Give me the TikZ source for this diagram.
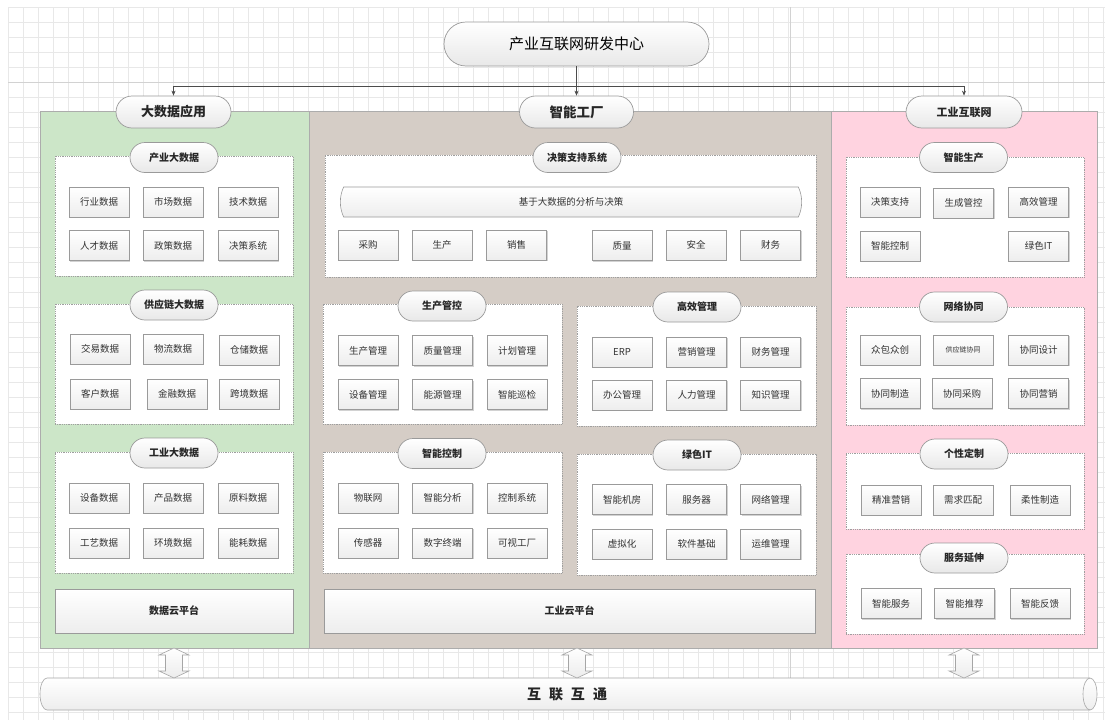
\documentclass[tikz,border=0pt]{standalone}
\usepackage{fontspec}
\setmainfont{Noto Sans CJK SC}
\usetikzlibrary{shapes.misc,shadows,arrows.meta,calc}
\definecolor{pgreen}{HTML}{CCE6C8}
\definecolor{pbrown}{HTML}{D5CDC6}
\definecolor{ppink}{HTML}{FFD3E0}
\definecolor{gridc}{HTML}{E8E8E8}
\definecolor{gridd}{HTML}{D2D2D2}
\definecolor{edge}{HTML}{9A9A9A}
\definecolor{txt}{HTML}{333333}
\begin{document}
\begin{tikzpicture}[x=1pt,y=-1pt,
 item/.style={draw=edge, line width=0.6pt, top color=white, bottom color=gray!14,
   minimum width=60pt, minimum height=30pt, inner sep=1pt,
   font=\fontsize{9.5}{11}\selectfont, text=txt,
   drop shadow={shadow xshift=1.2pt, shadow yshift=-1.2pt, opacity=0.35}},
 pill/.style={rounded rectangle, draw=edge, line width=0.7pt, top color=white, bottom color=gray!18,
   minimum width=90pt, minimum height=30pt, inner sep=1pt,
   font=\fontsize{10}{12}\selectfont\bfseries, text=black!85},
 group/.style={draw=gray!75, densely dotted, line width=0.8pt, fill=white, inner sep=0pt},
 panel/.style={draw=gray!65, line width=0.6pt, inner sep=0pt},
 cloud/.style={draw=edge, line width=0.6pt, top color=white, bottom color=gray!14, inner sep=0pt,
   font=\fontsize{10}{12}\selectfont\bfseries, text=black!85,
   drop shadow={shadow xshift=1.2pt, shadow yshift=-1.2pt, opacity=0.35}},
 conn/.style={draw=gray!60!black, line width=0.6pt, -{Stealth[length=5pt,width=4pt]}},
 dbl/.style={draw=gray!70, line width=0.6pt, top color=white, bottom color=gray!15},
]
\useasboundingbox (0,0) rectangle (1105,720);
\fill[white] (0,0) rectangle (1105,720);
% grid
\foreach \i in {0,...,73} \draw[gridc, line width=0.5pt] ({8+15*\i},7) -- ({8+15*\i},720);
\foreach \j in {0,...,47} \draw[gridc, line width=0.5pt] (8,{7+15*\j}) -- (1105,{7+15*\j});
\draw[gridd, line width=0.6pt] (8,82) -- (1105,82);
\draw[gridd, line width=0.6pt] (790,7) -- (790,720);

% panels
\node[panel, fill=pgreen, minimum width=269pt, minimum height=537pt] (pg) at (174.5,379.5) {};
\node[panel, fill=pbrown, minimum width=522pt, minimum height=537pt] (pb) at (570,379.5) {};
\node[panel, fill=ppink, minimum width=266pt, minimum height=537pt] (pp) at (964,379.5) {};

% top
\node[pill, minimum width=267pt, minimum height=44pt, font=\fontsize{15}{18}\selectfont, text=black] (top) at (576.5,44) {产业互联网研发中心};
\node[pill, minimum width=117pt, minimum height=32pt, font=\fontsize{13}{15}\selectfont\bfseries] (dsj) at (173.5,112) {大数据应用};
\node[pill, minimum width=116pt, minimum height=32pt, font=\fontsize{13.5}{15}\selectfont\bfseries] (zngc) at (576.5,112) {智能工厂};
\node[pill, minimum width=118pt, minimum height=32pt, font=\fontsize{11}{13}\selectfont\bfseries] (gyhlw) at (964,112) {工业互联网};
\coordinate (hj) at (576.5,86);
\draw[conn] (top.south) -- (zngc.north);
\draw[conn] (hj) -| (dsj.north);
\draw[conn] (hj) -| (gyhlw.north);

% ---------- left column
\node[group, minimum width=238pt, minimum height=120pt] (g1) at (174,216) {};
\node[pill] (g1t) at (174,157.5) {产业大数据};
\node[item] (a1) at (99,202) {行业数据};
\node[item] (a2) at (173,202) {市场数据};
\node[item] (a3) at (248,202) {技术数据};
\node[item] (a4) at (99,245.5) {人才数据};
\node[item] (a5) at (173,245.5) {政策数据};
\node[item] (a6) at (248,245.5) {决策系统};

\node[group, minimum width=238pt, minimum height=120pt] (g2) at (174,364) {};
\node[pill] (g2t) at (174,305) {供应链大数据};
\node[item] (b1) at (100,349) {交易数据};
\node[item] (b2) at (173,349) {物流数据};
\node[item] (b3) at (249,350) {仓储数据};
\node[item] (b4) at (100,394) {客户数据};
\node[item] (b5) at (177,394) {金融数据};
\node[item] (b6) at (249,394) {跨境数据};

\node[group, minimum width=238pt, minimum height=121pt] (g3) at (174,512.5) {};
\node[pill] (g3t) at (174,453) {工业大数据};
\node[item] (c1) at (99,498) {设备数据};
\node[item] (c2) at (173,498) {产品数据};
\node[item] (c3) at (248,498) {原料数据};
\node[item] (c4) at (99,543) {工艺数据};
\node[item] (c5) at (173,543) {环境数据};
\node[item] (c6) at (248,543) {能耗数据};

\node[cloud, minimum width=238pt, minimum height=44pt] (cl1) at (174,611) {数据云平台};

% ---------- middle column
\node[group, minimum width=491pt, minimum height=122pt] (m1) at (570.5,216) {};
\node[pill] (m1t) at (577,157.5) {决策支持系统};
\node[rounded rectangle, rounded rectangle arc length=50, draw=edge, line width=0.6pt,
  top color=white, bottom color=gray!14, minimum width=468pt, minimum height=30pt,
  font=\fontsize{9.5}{11}\selectfont, text=txt] (ban) at (571,202) {基于大数据的分析与决策};
\node[item] (d1) at (368,245) {采购};
\node[item] (d2) at (442,245) {生产};
\node[item] (d3) at (516.5,245) {销售};
\node[item] (d4) at (622,245.5) {质量};
\node[item] (d5) at (696,245) {安全};
\node[item] (d6) at (770.5,245) {财务};

\node[group, minimum width=239pt, minimum height=120pt] (m2) at (442.5,364) {};
\node[pill] (m2t) at (442,306) {生产管控};
\node[item] (e1) at (368,350.5) {生产管理};
\node[item] (e2) at (442.5,350.5) {质量管理};
\node[item] (e3) at (517,350.5) {计划管理};
\node[item] (e4) at (368,394.5) {设备管理};
\node[item] (e5) at (442.5,394.5) {能源管理};
\node[item] (e6) at (517,394.5) {智能巡检};

\node[group, minimum width=239pt, minimum height=120pt] (m3) at (696.5,366) {};
\node[pill] (m3t) at (697,307) {高效管理};
\node[item] (f1) at (622,352) {ERP};
\node[item] (f2) at (696.5,352) {营销管理};
\node[item] (f3) at (770.5,352) {财务管理};
\node[item] (f4) at (622,395) {办公管理};
\node[item] (f5) at (696.5,395) {人力管理};
\node[item] (f6) at (770.5,395) {知识管理};

\node[group, minimum width=239pt, minimum height=121pt] (m4) at (442.5,512.5) {};
\node[pill] (m4t) at (442,453.5) {智能控制};
\node[item] (h1) at (368,498) {物联网};
\node[item] (h2) at (442.5,498) {智能分析};
\node[item] (h3) at (517,498) {控制系统};
\node[item] (h4) at (368,543) {传感器};
\node[item] (h5) at (442.5,543) {数字终端};
\node[item] (h6) at (517,543) {可视工厂};

\node[group, minimum width=239pt, minimum height=121pt] (m5) at (696.5,514.5) {};
\node[pill] (m5t) at (697,455) {绿色IT};
\node[item] (k1) at (622,499.5) {智能机房};
\node[item] (k2) at (696.5,499.5) {服务器};
\node[item] (k3) at (770.5,499.5) {网络管理};
\node[item] (k4) at (622,544) {虚拟化};
\node[item] (k5) at (696.5,544) {软件基础};
\node[item] (k6) at (770.5,544) {运维管理};

\node[cloud, minimum width=491pt, minimum height=44pt] (cl2) at (569.5,611) {工业云平台};

% ---------- right column
\node[group, minimum width=238pt, minimum height=120pt] (r1) at (965,217) {};
\node[pill] (r1t) at (963.5,157.5) {智能生产};
\node[item] (p1) at (890,202) {决策支持};
\node[item] (p2) at (963.5,203) {生成管控};
\node[item] (p3) at (1038.5,202) {高效管理};
\node[item] (p4) at (890,246) {智能控制};
\node[item] (p5) at (1038.5,246) {绿色IT};

\node[group, minimum width=238pt, minimum height=118pt] (r2) at (965,366) {};
\node[pill] (r2t) at (963.5,307) {网络协同};
\node[item] (q1) at (890,350) {众包众创};
\node[item, font=\fontsize{7}{8}\selectfont] (q2) at (963,350) {供应链协同};
\node[item] (q3) at (1038.5,350) {协同设计};
\node[item] (q4) at (890,393.5) {协同制造};
\node[item] (q5) at (962,393.5) {协同采购};
\node[item] (q6) at (1038.5,393.5) {协同营销};

\node[group, minimum width=238pt, minimum height=76pt] (r3) at (965,491) {};
\node[pill] (r3t) at (964,454) {个性定制};
\node[item] (s1) at (891,500) {精准营销};
\node[item] (s2) at (963,500) {需求匹配};
\node[item] (s3) at (1040,500) {柔性制造};

\node[group, minimum width=238pt, minimum height=80pt] (r4) at (965,594) {};
\node[pill] (r4t) at (964,558) {服务延伸};
\node[item] (t1) at (891,603.5) {智能服务};
\node[item] (t2) at (964.5,603.5) {智能推荐};
\node[item] (t3) at (1040,603.5) {智能反馈};

% ---------- bottom cylinder
\path[draw=gray!70, line width=0.6pt, top color=white, bottom color=gray!14]
  (47,678) arc[start angle=90, end angle=270, x radius=7pt, y radius=16pt]
  -- (1090,710) arc[start angle=270, end angle=450, x radius=7pt, y radius=16pt] -- cycle;
\draw[gray!70, line width=0.6pt] (1090,678) arc[start angle=90, end angle=270, x radius=7pt, y radius=16pt];
\node[font=\fontsize{14}{16}\selectfont\bfseries, text=black!85] (net) at (567,694) {互\hspace{8pt}联\hspace{8pt}互\hspace{8pt}通};

% double arrows
\foreach \xx in {174,577,964} {
  \path[dbl] ({\xx-8.5},655) -- ({\xx-15},655) -- (\xx,648) -- ({\xx+15},655) -- ({\xx+8.5},655)
    -- ({\xx+8.5},671) -- ({\xx+15},671) -- (\xx,678) -- ({\xx-15},671) -- ({\xx-8.5},671) -- cycle;
}
\end{tikzpicture}
\end{document}
